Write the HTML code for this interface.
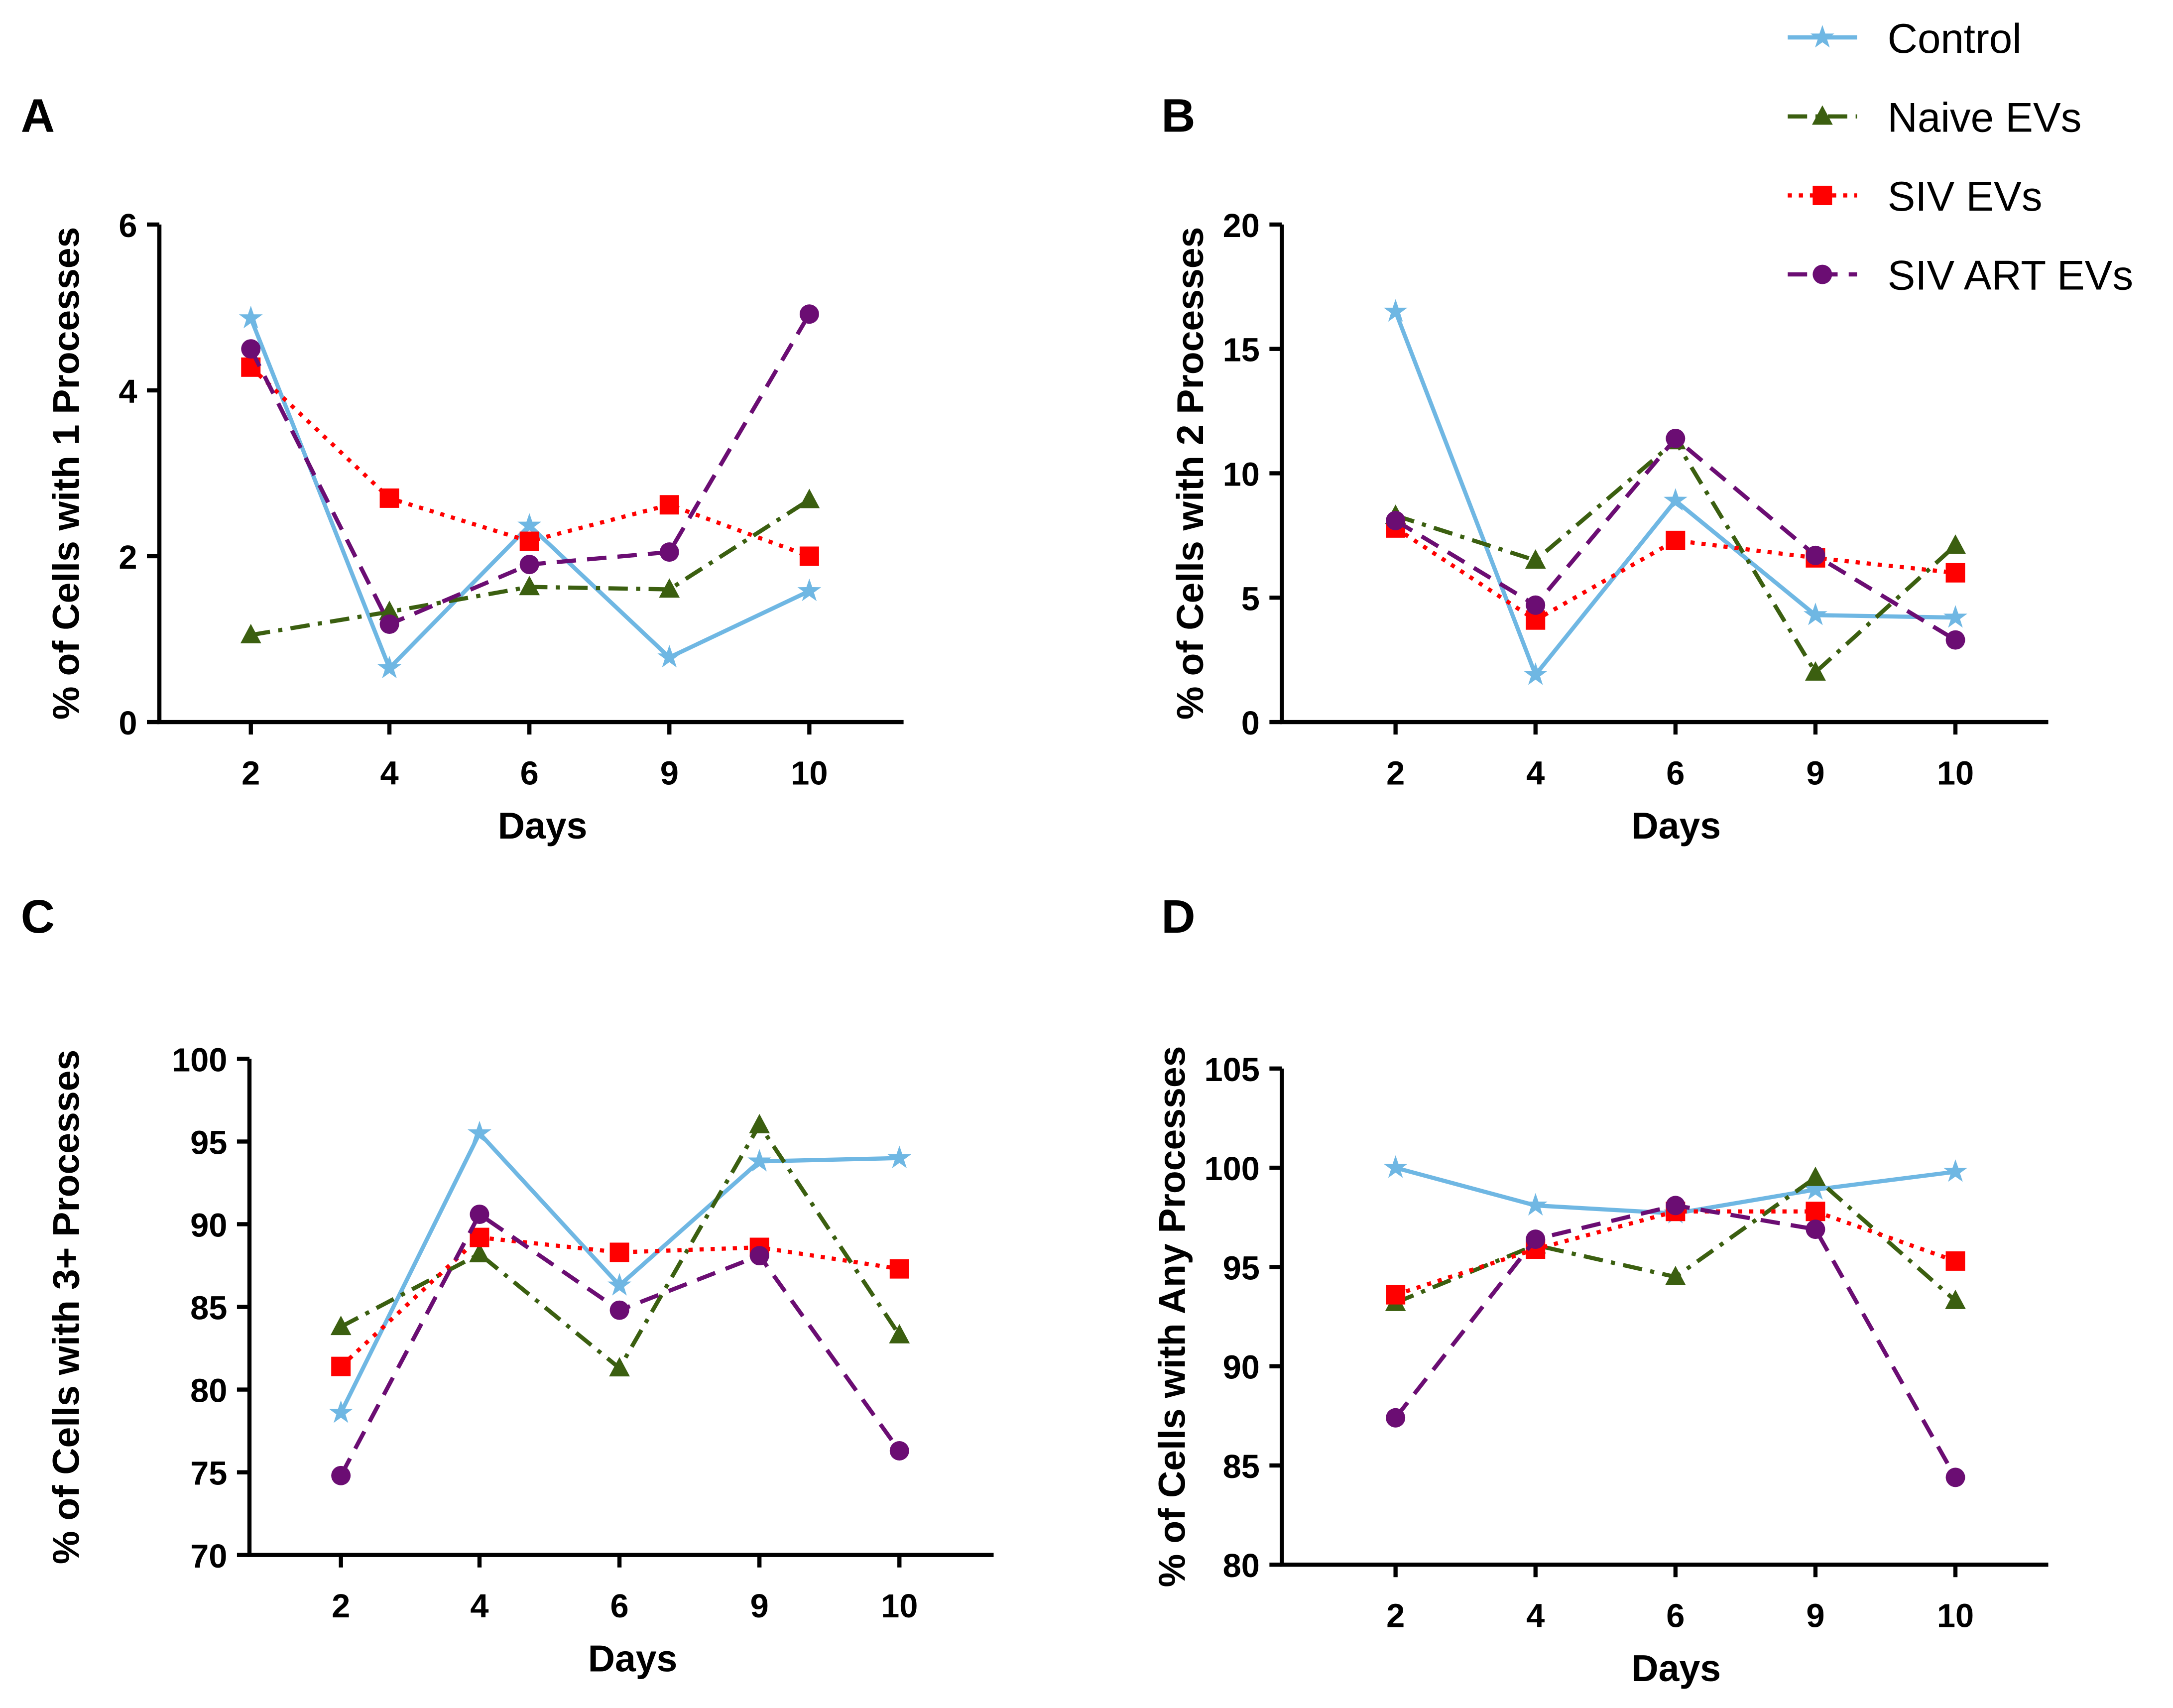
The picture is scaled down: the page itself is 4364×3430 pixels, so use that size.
<!DOCTYPE html>
<html><head><meta charset="utf-8"><style>
html,body{margin:0;padding:0;background:#fff}
svg{display:block}
text{font-family:"Liberation Sans",Arial,sans-serif;font-weight:bold;fill:#000}
</style></head><body>
<svg id="fig" width="4364" height="3430" viewBox="0 0 1568 1232.4" xmlns="http://www.w3.org/2000/svg"></svg>
<script>
const days = ["2","4","6","9","10"];
const seriesNames = ["Control","Naive EVs","SIV EVs","SIV ART EVs"];
const aControl = [4.87,0.65,2.37,0.78,1.58];
const aNaive = [1.05,1.33,1.63,1.6,2.68];
const aSiv = [4.28,2.7,2.18,2.62,2.0];
const aArt = [4.5,1.18,1.9,2.05,4.92];
const bControl = [16.5,1.9,8.9,4.3,4.2];
const bNaive = [8.3,6.5,11.3,2.0,7.1];
const bSiv = [7.8,4.1,7.3,6.6,6.0];
const bArt = [8.1,4.7,11.4,6.7,3.3];
const cControl = [78.6,95.5,86.3,93.8,94.0];
const cNaive = [83.8,88.2,81.3,96.0,83.3];
const cSiv = [81.4,89.2,88.3,88.6,87.3];
const cArt = [74.8,90.6,84.8,88.1,76.3];
const dControl = [100,98.1,97.7,98.9,99.8];
const dNaive = [93.2,96.1,94.5,99.5,93.3];
const dSiv = [93.6,95.9,97.8,97.8,95.3];
const dArt = [87.4,96.4,98.1,96.9,84.4];
const aTicks = [0,2,4,6];
const bTicks = [0,5,10,15,20];
const cTicks = [70,75,80,85,90,95,100];
const dTicks = [80,85,90,95,100,105];

const NS="http://www.w3.org/2000/svg";
const svg=document.getElementById('fig');
const styles=[
 {color:"#6fb7e3",dash:"",marker:"star"},
 {color:"#3b5f10",dash:"14 6 3 6",marker:"tri"},
 {color:"#ff0000",dash:"3 5",marker:"sq"},
 {color:"#6b0d73",dash:"14 8",marker:"circ"}];
function el(tag,attrs,parent){const e=document.createElementNS(NS,tag);for(const k in attrs)e.setAttribute(k,attrs[k]);(parent||svg).appendChild(e);return e;}
function marker(g,type,x,y,color){
 let m;
 if(type==="star"){let p=[];for(let i=0;i<10;i++){const r=i%2?3.5:9;const a=-Math.PI/2+i*Math.PI/5;p.push((x+r*Math.cos(a)).toFixed(1)+","+(y+r*Math.sin(a)).toFixed(1));}
  m=el('polygon',{points:p.join(' '),fill:color},g);}
 else if(type==="tri"){m=el('polygon',{points:`${x},${y-8} ${x+7.5},${y+6} ${x-7.5},${y+6}`,fill:color},g);}
 else if(type==="sq"){m=el('rect',{x:x-7,y:y-7,width:14,height:14,fill:color},g);}
 else {m=el('circle',{cx:x,cy:y,r:7,fill:color},g);}
 
 
}
function panel(id,letter,lx,ly,ax0,ax1,ayTop,ayBot,xs,ticks,data,title,titleX){
 const g=el('g',{});
 
 
 const lt=el('text',{x:lx,y:ly,'font-size':34},g);lt.textContent=letter;
 
 const ymin=ticks[0],ymax=ticks[ticks.length-1];
 const Y=v=>ayBot-(v-ymin)/(ymax-ymin)*(ayBot-ayTop);
 const X=i=>xs[i];
 const ax=el('path',{d:`M${ax0},${ayTop} V${ayBot} H${ax1}`,stroke:'#000','stroke-width':3,fill:'none'},g);
 
 ticks.forEach(t=>{el('line',{x1:ax0-9,x2:ax0,y1:Y(t),y2:Y(t),stroke:'#000','stroke-width':3},g);
  const tx=el('text',{x:ax0-16,y:Y(t)+9,'font-size':24,'text-anchor':'end'},g);tx.textContent=t;
  });
 days.forEach((d,i)=>{el('line',{x1:X(i),x2:X(i),y1:ayBot,y2:ayBot+9,stroke:'#000','stroke-width':3},g);
  const tx=el('text',{x:X(i),y:ayBot+45,'font-size':24,'text-anchor':'middle'},g);tx.textContent=d;
  });
 const xt=el('text',{x:(ax0+ax1)/2+8,y:ayBot+84,'font-size':27,'text-anchor':'middle'},g);xt.textContent='Days';
 
 const cy=(ayTop+ayBot)/2;
 const yt=el('text',{x:0,y:0,'font-size':27,'text-anchor':'middle',transform:`translate(${titleX},${cy}) rotate(-90)`},g);
 yt.textContent=title;
 
 data.forEach((vals,s)=>{const st=styles[s];
  const ln=el('polyline',{points:vals.map((v,i)=>X(i)+','+Y(v)).join(' '),fill:'none',stroke:st.color,'stroke-width':3,'stroke-dasharray':st.dash},g);
  
  vals.forEach((v,i)=>marker(g,st.marker,X(i),Y(v),st.color));});
}
const xsL=[181,281,382,483,584], xsR=[1007,1108,1209,1310,1411], xsC=[246,346,447,548,649];
panel('a','A',15,95,115,652,162,521,xsL,aTicks,[aControl,aNaive,aSiv,aArt],'% of Cells with 1 Processes',57);
panel('b','B',838,95,925,1478,162,521,xsR,bTicks,[bControl,bNaive,bSiv,bArt],'% of Cells with 2 Processes',868);
panel('c','C',15,673,180,717,764,1122,xsC,cTicks,[cControl,cNaive,cSiv,cArt],'% of Cells with 3+ Processes',57);
panel('d','D',838,673,925,1478,771,1129,xsR,dTicks,[dControl,dNaive,dSiv,dArt],'% of Cells with Any Processes',855);
const lg=el('g',{});


seriesNames.forEach((n,s)=>{const y=27+57*s;const st=styles[s];
 const l=el('line',{x1:1290,x2:1340,y1:y,y2:y,stroke:st.color,'stroke-width':3,'stroke-dasharray':st.dash},lg);
 
 marker(lg,st.marker,1315,y,st.color);
 const t=el('text',{x:1362,y:y+11,'font-size':30,style:'font-weight:normal'},lg);t.textContent=n;
 });
</script>
</body></html>
